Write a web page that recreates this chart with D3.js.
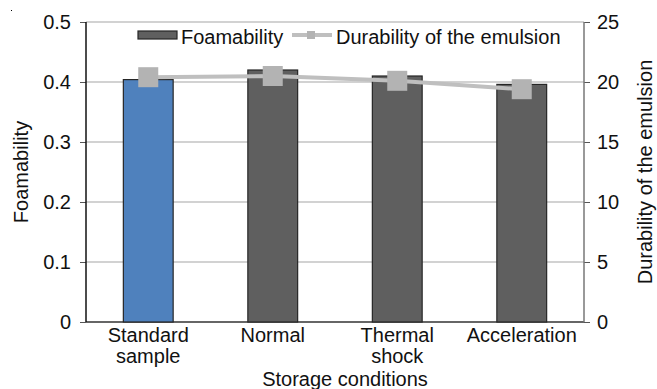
<!DOCTYPE html>
<html>
<head>
  <meta charset="utf-8">
  <script src="https://d3js.org/d3.v7.min.js"></script>
  <style>
    body{ margin:0; background:#fff; }
    text{
      font-family: "Liberation Sans", Arial, sans-serif;
      font-size: 20px;
      fill: #111;
    }
    path.domain{ display:none; }
  </style>
</head>
<body>
<script>
  var width = 657, height = 389;
  const margin = {top: 22, right: 73, bottom: 67, left: 86};

  // data
  const categories = ['Standard sample', 'Normal', 'Thermal shock', 'Acceleration'];
  const tickLines = [['Standard', 'sample'], ['Normal'], ['Thermal', 'shock'], ['Acceleration']];
  const foamability = [0.404, 0.42, 0.41, 0.396];
  const durability = [20.4, 20.5, 20.1, 19.4];
  const leftTicks = [0, 0.1, 0.2, 0.3, 0.4, 0.5];
  const rightTicks = [0, 5, 10, 15, 20, 25];
  const barColours = ['#4f81bd', '#5f5f5f', '#5f5f5f', '#5f5f5f'];

  let svg = d3.select('body').append('svg')
    .attr('width', width)
    .attr('height', height);

  let x = d3.scaleBand()
    .domain(categories)
    .range([margin.left, width - margin.right])
    .paddingInner(0.6)
    .paddingOuter(0.3);

  let y = d3.scaleLinear()
    .domain([0, 0.5])
    .range([height - margin.bottom, margin.top]);

  let y2 = d3.scaleLinear()
    .domain([0, 25])
    .range([height - margin.bottom, margin.top]);

  // gridlines
  svg.append('g')
    .selectAll('line')
    .data(leftTicks)
    .enter().append('line')
    .attr('x1', margin.left)
    .attr('x2', width - margin.right)
    .attr('y1', d => y(d))
    .attr('y2', d => y(d))
    .style('stroke', d => d == 0 ? '#333' : '#a6a6a6')
    .style('stroke-width', d => d == 0 ? 1.5 : 1.2);

  // left axis
  let yAxis = d3.axisLeft(y).tickValues(leftTicks).tickSize(6).tickPadding(9)
    .tickFormat(d => d == 0 ? '0' : d3.format('.1f')(d));
  let gl = svg.append('g')
    .attr('transform', `translate(${margin.left},0)`)
    .call(yAxis);
  gl.selectAll('.tick line').style('stroke', '#555');
  gl.selectAll('text').style('font-size', '20px').style('fill', '#111');
  svg.append('line')
    .attr('x1', margin.left).attr('x2', margin.left)
    .attr('y1', y(0.5)).attr('y2', y(0))
    .style('stroke', '#111').style('stroke-width', 1.5);

  // right axis
  let y2Axis = d3.axisRight(y2).tickValues(rightTicks).tickSize(6).tickPadding(7);
  let gr = svg.append('g')
    .attr('transform', `translate(${width - margin.right},0)`)
    .call(y2Axis);
  gr.selectAll('.tick line').style('stroke', '#555');
  gr.selectAll('text').style('font-size', '20px').style('fill', '#111');
  svg.append('line')
    .attr('x1', width - margin.right).attr('x2', width - margin.right)
    .attr('y1', y2(25)).attr('y2', y2(0))
    .style('stroke', '#777').style('stroke-width', 1.5);

  // bars
  svg.selectAll('rect.bar')
    .data(categories)
    .enter().append('rect')
    .attr('class', 'bar')
    .attr('x', d => x(d))
    .attr('width', x.bandwidth())
    .attr('y', (d, i) => y(foamability[i]))
    .attr('height', (d, i) => y(0) - y(foamability[i]))
    .style('fill', (d, i) => barColours[i])
    .style('stroke', '#262626')
    .style('stroke-width', 1.2);

  // durability line
  let line = d3.line()
    .x((d, i) => x(categories[i]) + x.bandwidth() / 2)
    .y(d => y2(d));

  svg.append('path')
    .datum(durability)
    .attr('d', line)
    .style('fill', 'none')
    .style('stroke', '#bfbfbf')
    .style('stroke-width', 4);

  svg.selectAll('rect.marker')
    .data(durability)
    .enter().append('rect')
    .attr('class', 'marker')
    .attr('x', (d, i) => x(categories[i]) + x.bandwidth() / 2 - 10)
    .attr('y', d => y2(d) - 10)
    .attr('width', 20)
    .attr('height', 20)
    .style('fill', '#b3b3b3');

  // x tick labels
  let xl = svg.append('g').selectAll('text')
    .data(categories)
    .enter().append('text')
    .attr('x', d => x(d) + x.bandwidth() / 2)
    .attr('y', 342)
    .style('text-anchor', 'middle');
  xl.selectAll('tspan')
    .data((d, i) => tickLines[i])
    .enter().append('tspan')
    .attr('x', function() { return this.parentNode.getAttribute('x'); })
    .attr('dy', (d, j) => j == 0 ? 0 : 21)
    .text(d => d);

  // axis titles
  svg.append('text')
    .attr('x', 345)
    .attr('y', 386)
    .style('text-anchor', 'middle')
    .text('Storage conditions');

  svg.append('text')
    .attr('transform', `translate(28, ${(y(0) + y(0.5)) / 2}) rotate(-90)`)
    .style('text-anchor', 'middle')
    .text('Foamability');

  svg.append('text')
    .attr('transform', `translate(652, ${(y(0) + y(0.5)) / 2}) rotate(-90)`)
    .style('text-anchor', 'middle')
    .text('Durability of the emulsion');

  // legend
  let legend = svg.append('g');
  legend.append('rect')
    .attr('x', 138).attr('y', 31)
    .attr('width', 39).attr('height', 8)
    .style('fill', '#5f5f5f')
    .style('stroke', '#262626')
    .style('stroke-width', 1.2);
  legend.append('text')
    .attr('x', 181).attr('y', 44)
    .text('Foamability');
  legend.append('line')
    .attr('x1', 292).attr('x2', 332)
    .attr('y1', 35).attr('y2', 35)
    .style('stroke', '#bfbfbf')
    .style('stroke-width', 4);
  legend.append('rect')
    .attr('x', 307).attr('y', 31)
    .attr('width', 8).attr('height', 8)
    .style('fill', '#b3b3b3');
  legend.append('text')
    .attr('x', 336).attr('y', 44)
    .text('Durability of the emulsion');

  // stray dot in the corner of the source image
  svg.append('rect')
    .attr('x', 11).attr('y', 10)
    .attr('width', 1).attr('height', 1)
    .style('fill', '#000');
</script>
</body>
</html>
